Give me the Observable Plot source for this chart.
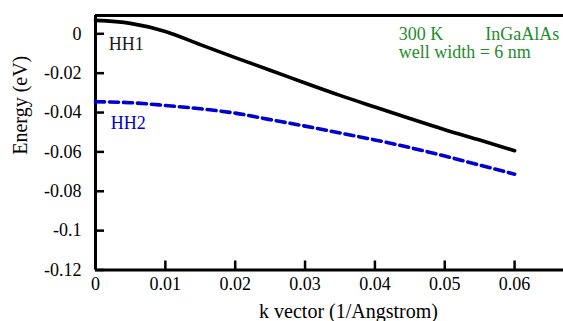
<!DOCTYPE html>
<html><head><meta charset="utf-8">
<script src="https://cdn.jsdelivr.net/npm/d3@7"></script>
<script src="https://cdn.jsdelivr.net/npm/@observablehq/plot@0.6"></script>
<style>html,body{margin:0;padding:0;background:#fff} svg{display:block}</style>
</head><body><div id="chart"></div>
<script>
const kVector = [0, 0.005, 0.01, 0.015, 0.02, 0.025, 0.03, 0.035, 0.04, 0.045, 0.05, 0.055, 0.06];
const hh1 = [0.0068, 0.0053, 0.0012, -0.0055, -0.0121, -0.0185, -0.0250, -0.0313, -0.0372, -0.0430, -0.0487, -0.0540, -0.0594];
const hh2 = [-0.0345, -0.0350, -0.0364, -0.0381, -0.0403, -0.0436, -0.0469, -0.0504, -0.0539, -0.0578, -0.0621, -0.0667, -0.0713];
const xTicks = [0, 0.01, 0.02, 0.03, 0.04, 0.05, 0.06];
const yTicks = [0, -0.02, -0.04, -0.06, -0.08, -0.1, -0.12];
const xDomain = [0, 0.067];
const yDomain = [-0.12, 0.0093];
const curveLabels = [
  {text: "HH1", k: 0.0019, e: -0.008, color: "#1a1a1a"},
  {text: "HH2", k: 0.0022, e: -0.0484, color: "#0000d0"}
];
const noteLabels = [
  {text: "300 K", k: 0.0434, e: -0.0033},
  {text: "InGaAlAs", k: 0.0558, e: -0.0033},
  {text: "well width = 6 nm", k: 0.0434, e: -0.0122}
];
const xLabel = "k vector (1/Angstrom)";
const yLabel = "Energy (eV)";

const s1 = kVector.map((k, i) => ({k, e: hh1[i]}));
const s2 = kVector.map((k, i) => ({k, e: hh2[i]}));

const W = 563, H = 321, ML = 95, MR = 0, MT = 15, MB = 51.5, TICK = 9;
const font = "Liberation Serif";

const chart = Plot.plot({
  width: W, height: H,
  marginLeft: ML, marginRight: MR, marginTop: MT, marginBottom: MB,
  style: {fontFamily: font, fontSize: "18px", background: "#fff", color: "#000"},
  x: {domain: xDomain},
  y: {domain: yDomain},
  marks: [
    // inward ticks: axis shifted inward by the tick length
    Plot.axisX({ticks: xTicks, tickSize: TICK, dy: -TICK, tickPadding: 7.4, tickFormat: d => String(d), label: null, strokeWidth: 2.5, fontSize: 18, fontFamily: font}),
    Plot.axisY({ticks: yTicks, tickSize: TICK, dx: TICK, tickPadding: 14, tickFormat: d => String(d), label: null, strokeWidth: 2.5, fontSize: 18, fontFamily: font}),
    Plot.ruleX([xDomain[0]], {strokeWidth: 3}),
    Plot.ruleY([yDomain[0], yDomain[1]], {strokeWidth: 3}),
    Plot.line(s1, {x: "k", y: "e", stroke: "#000", strokeWidth: 3.6, curve: "monotone-x"}),
    Plot.line(s2, {x: "k", y: "e", stroke: "#0000d0", strokeWidth: 3.6, strokeDasharray: "9,5", curve: "monotone-x"}),
    Plot.text(curveLabels, {x: "k", y: "e", text: "text", fill: "color", textAnchor: "start", lineAnchor: "bottom", fontSize: 18, fontFamily: font}),
    Plot.text(noteLabels, {x: "k", y: "e", text: "text", fill: "#1e8c2a", textAnchor: "start", lineAnchor: "bottom", fontSize: 18, fontFamily: font}),
    Plot.text([xLabel], {frameAnchor: "bottom", dx: 19, dy: 47.5, lineAnchor: "bottom", fontSize: 20, fontFamily: font}),
    Plot.text([yLabel], {frameAnchor: "left", dx: -75, dy: 12, rotate: -90, lineAnchor: "middle", fontSize: 20, fontFamily: font})
  ]
});
document.getElementById("chart").append(chart);
</script>
</body></html>
